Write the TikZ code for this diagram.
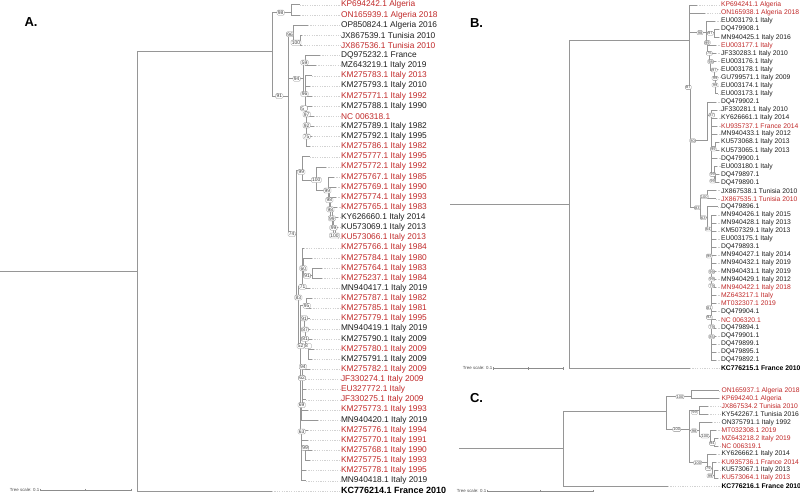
\documentclass[tikz,border=0pt]{standalone}
\usepackage{fontspec}
\setmainfont{Liberation Sans}
\definecolor{lred}{RGB}{192,40,40}
\definecolor{lblk}{RGB}{30,30,30}
\definecolor{brc}{RGB}{150,150,150}
\definecolor{ldc}{RGB}{210,210,210}
\tikzset{
 br/.style={draw=brc,line width=0.6pt},
 lead/.style={draw=ldc,line width=0.35pt,dash pattern=on 1.2pt off 1.2pt},
 lblA/.style={anchor=west,inner sep=0.3pt,font=\fontsize{8.35}{9}\selectfont},
 lblB/.style={anchor=west,inner sep=0.3pt,font=\fontsize{6.75}{7.5}\selectfont},
 rd/.style={text=lred}, bk/.style={text=lblk},
 bdA/.style={text=black,font=\fontsize{9}{10}\selectfont\bfseries},
 bdB/.style={text=black,font=\fontsize{6.8}{7.5}\selectfont\bfseries},
 panel/.style={font=\fontsize{13}{14}\selectfont\bfseries,inner sep=0pt},
 scl/.style={font=\fontsize{4.4}{5}\selectfont,text=black!70,inner sep=0.5pt,anchor=east},
 sbar/.style={draw=black!45,line width=0.4pt},
 bA/.style={draw=black!45,fill=white,rounded corners=1.2pt,line width=0.3pt,inner xsep=0.9pt,inner ysep=0.8pt,text height=3.5pt,text depth=0pt,font=\fontsize{4.9}{5}\selectfont,text=black!75},
 bB/.style={draw=black!45,fill=white,rounded corners=1pt,line width=0.3pt,inner xsep=0.7pt,inner ysep=0.6pt,text height=2.9pt,text depth=0pt,font=\fontsize{4}{4}\selectfont,text=black!75}
}
\newcommand\lfA[4]{\coordinate (a#1) at (#2,{4.8+(#1-1)*10.125});\node[lblA,#3] (a#1l) at (340.5,{4.8+(#1-1)*10.125}) {#4};\draw[lead] (a#1) -- (a#1l.west);}
\newcommand\lfB[4]{\coordinate (b#1) at (#2,{5+(#1-1)*8.07});\node[lblB,#3] (b#1l) at (720.5,{5+(#1-1)*8.07}) {#4};\draw[lead] (b#1) -- (b#1l.west);}
\newcommand\lfC[4]{\coordinate (c#1) at (#2,{390.7+(#1-1)*7.94});\node[lblB,#3] (c#1l) at (721,{390.7+(#1-1)*7.94}) {#4};\draw[lead] (c#1) -- (c#1l.west);}
\newcommand\kids[2]{\foreach \k in {#2}{\draw[br] (#1) |- (\k);}}
\begin{document}
\begin{tikzpicture}[x=1pt,y=-1pt]
\useasboundingbox (0,0) rectangle (800,495);
% ================= Panel A =================
\node[panel] (pA) at (31,21.7) {A.};
\lfA{1}{300}{rd}{KP694242.1 Algeria}
\lfA{2}{300}{rd}{ON165939.1 Algeria 2018}
\lfA{3}{308}{bk}{OP850824.1 Algeria 2016}
\lfA{4}{302}{bk}{JX867539.1 Tunisia 2010}
\lfA{5}{302}{rd}{JX867536.1 Tunisia 2010}
\lfA{6}{320}{bk}{DQ975232.1 France}
\lfA{7}{316}{bk}{MZ643219.1 Italy 2019}
\lfA{8}{312}{rd}{KM275783.1 Italy 2013}
\lfA{9}{310}{bk}{KM275793.1 Italy 2010}
\lfA{10}{312}{rd}{KM275771.1 Italy 1992}
\lfA{11}{312}{bk}{KM275788.1 Italy 1990}
\lfA{12}{314}{rd}{NC 006318.1}
\lfA{13}{314}{bk}{KM275789.1 Italy 1982}
\lfA{14}{312}{bk}{KM275792.1 Italy 1995}
\lfA{15}{310}{rd}{KM275786.1 Italy 1982}
\lfA{16}{310}{rd}{KM275777.1 Italy 1995}
\lfA{17}{326}{rd}{KM275772.1 Italy 1992}
\lfA{18}{334}{rd}{KM275767.1 Italy 1985}
\lfA{19}{336}{rd}{KM275769.1 Italy 1990}
\lfA{20}{336}{rd}{KM275774.1 Italy 1993}
\lfA{21}{337}{rd}{KM275765.1 Italy 1983}
\lfA{22}{338}{bk}{KY626660.1 Italy 2014}
\lfA{23}{338}{bk}{KU573069.1 Italy 2013}
\lfA{24}{338}{rd}{KU573066.1 Italy 2013}
\lfA{25}{304}{rd}{KM275766.1 Italy 1984}
\lfA{26}{312}{rd}{KM275784.1 Italy 1980}
\lfA{27}{322}{rd}{KM275764.1 Italy 1983}
\lfA{28}{322}{rd}{KM275237.1 Italy 1984}
\lfA{29}{310}{bk}{MN940417.1 Italy 2019}
\lfA{30}{312}{rd}{KM275787.1 Italy 1982}
\lfA{31}{311}{rd}{KM275785.1 Italy 1981}
\lfA{32}{310}{rd}{KM275779.1 Italy 1995}
\lfA{33}{310}{bk}{MN940419.1 Italy 2019}
\lfA{34}{312}{bk}{KM275790.1 Italy 2009}
\lfA{35}{314}{rd}{KM275780.1 Italy 2009}
\lfA{36}{312}{bk}{KM275791.1 Italy 2009}
\lfA{37}{310}{rd}{KM275782.1 Italy 2009}
\lfA{38}{306}{rd}{JF330274.1 Italy 2009}
\lfA{39}{306}{rd}{EU327772.1 Italy}
\lfA{40}{306}{rd}{JF330275.1 Italy 2009}
\lfA{41}{308}{rd}{KM275773.1 Italy 1993}
\lfA{42}{318}{bk}{MN940420.1 Italy 2019}
\lfA{43}{308}{rd}{KM275776.1 Italy 1994}
\lfA{44}{308}{rd}{KM275770.1 Italy 1991}
\lfA{45}{312}{rd}{KM275768.1 Italy 1990}
\lfA{46}{310}{rd}{KM275775.1 Italy 1993}
\lfA{47}{306}{rd}{KM275778.1 Italy 1995}
\lfA{48}{306}{bk}{MN940418.1 Italy 2019}
\lfA{49}{272}{bdA}{KC776214.1 France 2010}
% internal nodes A
\coordinate (rA0) at (0,271.7);
\coordinate (rA) at (137,271.7);
\coordinate (aN1) at (272,51.7);
\coordinate (aT98) at (291.7,12.7);
\coordinate (aN91) at (288.3,96);
\coordinate (aT96) at (293.3,34.3);
\coordinate (aT100) at (300,42.7);
\coordinate (aN94) at (303,78.7);
\coordinate (aT59) at (305,62.5);
\coordinate (aL96) at (305.5,94);
\coordinate (aL54) at (305,108.3);
\coordinate (aL97) at (306.7,114.3);
\coordinate (aL92) at (306.7,125.3);
\coordinate (aL75) at (306.7,136.5);
\coordinate (aN74) at (296.7,234);
\coordinate (aM99) at (302,170);
\coordinate (aM100) at (316.5,180);
\coordinate (aM99b) at (328.5,190.5);
\coordinate (aM98) at (329.5,200);
\coordinate (aM98b) at (330.3,209.3);
\coordinate (aM99c) at (332,218.3);
\coordinate (aM99d) at (333.5,227.7);
\coordinate (aM100b) at (335,235.5);
\coordinate (aN83) at (298.3,297.5);
\coordinate (aN71) at (302.5,286.7);
\coordinate (aN60) at (303.5,268.3);
\coordinate (aN91b) at (312.7,275.7);
\coordinate (aN52) at (300.7,346);
\coordinate (aN95) at (306.5,305.7);
\coordinate (aN91c) at (304,318.3);
\coordinate (aN87) at (305,329.5);
\coordinate (aN81) at (305,338.7);
\coordinate (aN8) at (307.8,346);
\coordinate (aN94c) at (302.5,366.7);
\coordinate (aN62) at (302,378);
\coordinate (aN69) at (301.7,405);
\coordinate (aN63) at (301.7,431.5);
\coordinate (aN99e) at (305,447.8);
\draw[br] (rA0) -- (rA);
\kids{rA}{aN1,a49}
\kids{aN1}{aT98,aN91}
\kids{aT98}{a1,a2}
\kids{aN91}{aT96,aN94,aN74}
\kids{aT96}{a3,aT100}
\kids{aT100}{a4,a5}
\kids{aN94}{aT59,aL96}
\kids{aT59}{a6,a7}
\kids{aL96}{a8,a9,aL54}
\kids{aL54}{a10,aL97}
\kids{aL97}{a11,a12,aL92}
\kids{aL92}{a13,aL75}
\kids{aL75}{a14,a15}
\kids{aN74}{aM99,aN83}
\kids{aM99}{a16,aM100}
\kids{aM100}{a17,aM99b}
\kids{aM99b}{a18,aM98}
\kids{aM98}{a19,aM98b}
\kids{aM98b}{a20,aM99c}
\kids{aM99c}{a21,aM99d}
\kids{aM99d}{a22,aM100b}
\kids{aM100b}{a23,a24}
\kids{aN83}{aN71,aN52}
\kids{aN71}{a25,aN60,a29}
\kids{aN60}{a26,aN91b}
\kids{aN91b}{a27,a28}
\kids{aN52}{aN95,aN91c,aN94c,aN63}
\kids{aN95}{a30,a31}
\kids{aN91c}{a32,aN87}
\kids{aN87}{a33,aN81}
\kids{aN81}{a34,aN8}
\kids{aN8}{a35,a36}
\kids{aN94c}{a37,aN62}
\kids{aN62}{a38,a39,a40,aN69}
\kids{aN69}{a41,a42}
\kids{aN63}{a43,a44,aN99e,a47,a48}
\kids{aN99e}{a45,a46}
% boxes A
\node[bA] (kA1) at (280.7,12.7) {98};
\node[bA] (kA2) at (290,34.3) {96};
\node[bA] (kA3) at (296,42.7) {100};
\node[bA] (kA4) at (304.5,62.5) {59};
\node[bA] (kA5) at (296.7,78.7) {94};
\node[bA] (kA6) at (279.3,96) {91};
\node[bA] (kA7) at (304.5,94) {96};
\node[bA] (kA8) at (304,108.3) {5\phantom{4}};
\node[bA] (kA9) at (306.7,114.3) {97};
\node[bA] (kA10) at (306.7,125.3) {92};
\node[bA] (kA11) at (306.7,136.5) {75};
\node[bA] (kA12) at (301.3,172) {99};
\node[bA] (kA13) at (316.3,180) {100};
\node[bA] (kA14) at (327.3,190.5) {99};
\node[bA] (kA15) at (329.3,200) {98};
\node[bA] (kA16) at (330.3,209.3) {98};
\node[bA] (kA17) at (331.8,218.3) {99};
\node[bA] (kA18) at (333.5,227.7) {99};
\node[bA] (kA19) at (334.5,235.5) {100};
\node[bA] (kA20) at (291.7,234) {74};
\node[bA] (kA21) at (303.3,268.3) {60};
\node[bA] (kA22) at (307,275.7) {91};
\node[bA] (kA23) at (302.5,286.7) {71};
\node[bA] (kA24) at (298.3,297.5) {83};
\node[bA] (kA25) at (306.7,305.7) {95};
\node[bA] (kA26) at (304,318.3) {91};
\node[bA] (kA27) at (305,329.5) {87};
\node[bA] (kA28) at (305,338.7) {81};
\node[bA] (kA29) at (307.8,346) {8\phantom{4}};
\node[bA] (kA30) at (300.7,346) {52};
\node[bA] (kA31) at (302.8,366.7) {94};
\node[bA] (kA32) at (302,378) {62};
\node[bA] (kA33) at (301.7,405) {69};
\node[bA] (kA34) at (301.7,431.5) {63};
\node[bA] (kA35) at (305,447.8) {99};
% scale A
\coordinate (sA1) at (40,490); \coordinate (sA2) at (131,490);
\draw[sbar] (sA1) -- (sA2);
\foreach \t in {40,85.5,131}{\draw[sbar] (\t,488.8) -- (\t,491.2);}
\node[scl] (sAt) at (sA1) {Tree scale: 0.1};
% ================= Panel B =================
\node[panel] (pB) at (476.5,22.7) {B.};
\lfB{1}{697}{rd}{KP694241.1 Algeria}
\lfB{2}{705}{rd}{ON165938.1 Algeria 2018}
\lfB{3}{715}{bk}{EU003179.1 Italy}
\lfB{4}{719}{bk}{DQ479908.1}
\lfB{5}{719}{bk}{MN940425.1 Italy 2016}
\lfB{6}{716}{rd}{EU003177.1 Italy}
\lfB{7}{716}{bk}{JF330283.1 Italy 2010}
\lfB{8}{716}{bk}{EU003176.1 Italy}
\lfB{9}{718}{bk}{EU003178.1 Italy}
\lfB{10}{718}{bk}{GU799571.1 Italy 2009}
\lfB{11}{718}{bk}{EU003174.1 Italy}
\lfB{12}{718}{bk}{EU003173.1 Italy}
\lfB{13}{716}{bk}{DQ479902.1}
\lfB{14}{717}{bk}{JF330281.1 Italy 2010}
\lfB{15}{717}{bk}{KY626661.1 Italy 2014}
\lfB{16}{717}{rd}{KU935737.1 France 2014}
\lfB{17}{717}{bk}{MN940433.1 Italy 2012}
\lfB{18}{719}{bk}{KU573068.1 Italy 2013}
\lfB{19}{719}{bk}{KU573065.1 Italy 2013}
\lfB{20}{717}{bk}{DQ479900.1}
\lfB{21}{717}{bk}{EU003180.1 Italy}
\lfB{22}{719}{bk}{DQ479897.1}
\lfB{23}{719}{bk}{DQ479890.1}
\lfB{24}{716}{bk}{JX867538.1 Tunisia 2010}
\lfB{25}{716}{rd}{JX867535.1 Tunisia 2010}
\lfB{26}{718}{bk}{DQ479896.1}
\lfB{27}{716}{bk}{MN940426.1 Italy 2015}
\lfB{28}{716}{bk}{MN940428.1 Italy 2013}
\lfB{29}{716}{bk}{KM507329.1 Italy 2013}
\lfB{30}{716}{bk}{EU003175.1 Italy}
\lfB{31}{716}{bk}{DQ479893.1}
\lfB{32}{716}{bk}{MN940427.1 Italy 2014}
\lfB{33}{716}{bk}{MN940432.1 Italy 2019}
\lfB{34}{716}{bk}{MN940431.1 Italy 2019}
\lfB{35}{716}{bk}{MN940429.1 Italy 2012}
\lfB{36}{716}{rd}{MN940422.1 Italy 2018}
\lfB{37}{716}{rd}{MZ643217.1 Italy}
\lfB{38}{716}{rd}{MT032307.1 2019}
\lfB{39}{716}{bk}{DQ479904.1}
\lfB{40}{716}{rd}{NC 006320.1}
\lfB{41}{716}{bk}{DQ479894.1}
\lfB{42}{716}{bk}{DQ479901.1}
\lfB{43}{716}{bk}{DQ479899.1}
\lfB{44}{716}{bk}{DQ479895.1}
\lfB{45}{716}{bk}{DQ479892.1}
\lfB{46}{690}{bdB}{KC776215.1 France 2010}
\coordinate (rB0) at (450,204);
\coordinate (rB) at (569,204);
\coordinate (bT) at (689.3,40);
\coordinate (bN98) at (706,32.7);
\coordinate (bN97) at (714,32.2);
\coordinate (bN99a) at (707.3,44);
\coordinate (bN75) at (709.3,53.3);
\coordinate (bN98b) at (710.7,61.7);
\coordinate (bN97b) at (714.3,70);
\coordinate (bN99b) at (715,78.3);
\coordinate (bN99c) at (715,85);
\coordinate (bN87) at (690,87.3);
\coordinate (bN80) at (707.3,140.7);
\coordinate (bN87b) at (711.7,115);
\coordinate (bN99d) at (715.5,146.2);
\coordinate (bN99e) at (714,174.3);
\coordinate (bN99f) at (715.5,181);
\coordinate (bN83) at (700,207.7);
\coordinate (bN100) at (707.3,196.7);
\coordinate (bN63) at (707.3,217.7);
\coordinate (bN64) at (711.7,229);
\coordinate (bN99g) at (711.7,256);
\coordinate (bN99h) at (711.7,271.7);
\coordinate (bN99i) at (711.7,279);
\coordinate (bN79) at (711.7,285.7);
\coordinate (bN81) at (711.7,307.7);
\coordinate (bN93) at (711.7,317.3);
\coordinate (bN79b) at (711.7,326.7);
\coordinate (bN85) at (711.7,336.7);
\draw[br] (rB0) -- (rB);
\kids{rB}{bT,b46}
\kids{bT}{b1,b2,bN98,bN87}
\kids{bN98}{b3,bN97,bN99a}
\kids{bN97}{b4,b5}
\kids{bN99a}{b6,bN75}
\kids{bN75}{b7,bN98b}
\kids{bN98b}{b8,bN97b}
\kids{bN97b}{b9,bN99b}
\kids{bN99b}{b10,bN99c}
\kids{bN99c}{b11,b12}
\kids{bN87}{bN80,bN83}
\kids{bN80}{b13,bN87b}
\kids{bN87b}{b14,b15,b16,b17,bN99d,b20,bN99e}
\kids{bN99d}{b18,b19}
\kids{bN99e}{b21,bN99f}
\kids{bN99f}{b22,b23}
\kids{bN83}{bN100,bN63}
\kids{bN100}{b24,b25}
\kids{bN63}{b26,bN64}
\kids{bN64}{b27,b28,b29,b30,b31,bN99g}
\kids{bN99g}{b32,b33,bN99h}
\kids{bN99h}{b34,bN99i}
\kids{bN99i}{b35,bN79}
\kids{bN79}{b36,b37,b38,bN81}
\kids{bN81}{b39,bN93}
\kids{bN93}{b40,bN79b}
\kids{bN79b}{b41,bN85}
\kids{bN85}{b42,b43,b44,b45}
\node[bB] (kB1) at (700,32.7) {98};
\node[bB] (kB2) at (710.3,33.3) {97};
\node[bB] (kB3) at (707.3,42.7) {99};
\node[bB] (kB4) at (709.3,53.3) {75};
\node[bB] (kB5) at (710.7,61.7) {98};
\node[bB] (kB6) at (714.3,70) {97};
\node[bB] (kB7) at (715,78.3) {99};
\node[bB] (kB8) at (715,85) {99};
\node[bB] (kB9) at (688.3,87.3) {87};
\node[bB] (kB10) at (711.7,115) {87};
\node[bB] (kB11) at (692.7,140.7) {80};
\node[bB] (kB12) at (713.3,149) {99};
\node[bB] (kB13) at (712.7,174.3) {99};
\node[bB] (kB14) at (712.7,181) {99};
\node[bB] (kB15) at (704.3,196.7) {100};
\node[bB] (kB16) at (697.3,207.7) {83};
\node[bB] (kB17) at (703.3,217.7) {63};
\node[bB] (kB18) at (708.3,229) {64};
\node[bB] (kB19) at (709.3,256) {99};
\node[bB] (kB20) at (711.7,271.7) {99};
\node[bB] (kB21) at (711.7,279) {99};
\node[bB] (kB22) at (711.7,285.7) {79};
\node[bB] (kB23) at (709.3,307.7) {81};
\node[bB] (kB24) at (709.3,317.3) {93};
\node[bB] (kB25) at (711.7,326.7) {79};
\node[bB] (kB26) at (711.7,336.7) {85};
\coordinate (sB1) at (493,368.3); \coordinate (sB2) at (563,368.3);
\draw[sbar] (sB1) -- (sB2);
\foreach \t in {493,528,563}{\draw[sbar] (\t,367.1) -- (\t,369.5);}
\node[scl] (sBt) at (sB1) {Tree scale: 0.1};
% ================= Panel C =================
\node[panel] (pC) at (476.5,398) {C.};
\lfC{1}{719}{rd}{ON165937.1 Algeria 2018}
\lfC{2}{719}{rd}{KP694240.1 Algeria}
\lfC{3}{708}{rd}{JX867534.2 Tunisia 2010}
\lfC{4}{708}{bk}{KY542267.1 Tunisia 2016}
\lfC{5}{712}{bk}{ON375791.1 Italy 1992}
\lfC{6}{716}{rd}{MT032308.1 2019}
\lfC{7}{718}{rd}{MZ643218.2 Italy 2019}
\lfC{8}{718}{rd}{NC 006319.1}
\lfC{9}{716}{bk}{KY626662.1 Italy 2014}
\lfC{10}{716}{rd}{KU935736.1 France 2014}
\lfC{11}{718}{bk}{KU573067.1 Italy 2013}
\lfC{12}{718}{rd}{KU573064.1 Italy 2013}
\lfC{13}{668}{bdB}{KC776216.1 France 2010}
\coordinate (rC0) at (459.3,448.7);
\coordinate (rC) at (563.7,448.7);
\coordinate (cT) at (666.7,411.7);
\coordinate (cN100a) at (691.7,396.7);
\coordinate (cN100b) at (689,429.3);
\coordinate (cN99) at (699,410.6);
\coordinate (cN98) at (699,430.7);
\coordinate (cN100d) at (710,436);
\coordinate (cN94) at (714,443.3);
\coordinate (cN100c) at (707.3,462.7);
\coordinate (cN79) at (712,468.3);
\coordinate (cN99b) at (714,475.7);
\draw[br] (rC0) -- (rC);
\kids{rC}{cT,c13}
\kids{cT}{cN100a,cN100b}
\kids{cN100a}{c1,c2}
\kids{cN100b}{cN99,cN98,cN100c}
\kids{cN99}{c3,c4}
\kids{cN98}{c5,cN100d}
\kids{cN100d}{c6,cN94}
\kids{cN94}{c7,c8}
\kids{cN100c}{c9,cN79}
\kids{cN79}{c10,cN99b}
\kids{cN99b}{c11,c12}
\node[bB] (kC1) at (680,396.7) {100};
\node[bB] (kC2) at (694.5,412.5) {99};
\node[bB] (kC3) at (676.7,429.3) {100};
\node[bB] (kC4) at (694,430.7) {98};
\node[bB] (kC5) at (705,436) {100};
\node[bB] (kC6) at (712.3,443.3) {94};
\node[bB] (kC7) at (697.7,462.7) {100};
\node[bB] (kC8) at (708.3,468.3) {79};
\node[bB] (kC9) at (710,475.7) {99};
\coordinate (sC1) at (487,491); \coordinate (sC2) at (593,491);
\draw[sbar] (sC1) -- (sC2);
\foreach \t in {487,540,593}{\draw[sbar] (\t,489.8) -- (\t,492.2);}
\node[scl] (sCt) at (sC1) {Tree scale: 0.1};
\end{tikzpicture}
\end{document}
